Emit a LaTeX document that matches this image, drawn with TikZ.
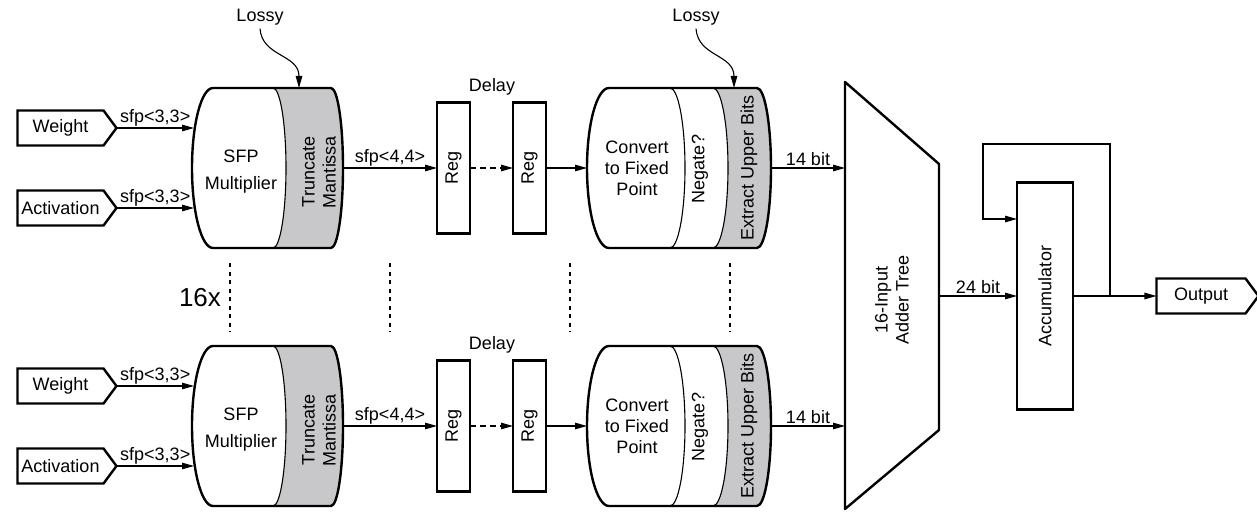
\documentclass[tikz,border=0pt]{standalone}
\usepackage{fontspec}
\setmainfont{Liberation Sans}
\usetikzlibrary{arrows.meta, positioning, shapes.symbols}
\definecolor{lossfill}{RGB}{200,200,202}

\begin{document}
\begin{tikzpicture}[
    x=1pt, y=1pt,
    font=\fontsize{18}{21}\selectfont,
    port/.style={draw, line width=2.4pt, signal, signal to=east, signal pointer angle=107,
                 minimum width=99pt, minimum height=35pt, inner sep=0pt, outer sep=0pt},
    regbox/.style={draw, line width=2.4pt, minimum width=33pt, minimum height=131pt,
                   inner sep=0pt, outer sep=0pt},
    frame/.style={minimum height=160pt, inner sep=0pt, outer sep=0pt},
    outline/.style={line width=2.4pt, line join=round},
    divider/.style={line width=1.1pt},
    lbl/.style={inner sep=1.5pt},
    arrow/.style={-{Triangle[length=12pt, width=6.5pt]}, line width=1.2pt},
    lane/.style={dash pattern=on 4pt off 4.5pt, line width=1.1pt},
]
    \useasboundingbox (0,0) rectangle (1257,512);

    % ---------------- Top lane ----------------
    \node[port] (weight1) at (60.5,384) {Weight};
    \node[port] (act1)    at (60.5,304) {Activation};

    % multiplier drum
    \node[frame, minimum width=149pt] (mult1) at (268.5,344) {};
    \fill[lossfill] (273,424) arc[start angle=90, end angle=-90, x radius=13pt, y radius=80pt]
        -- (331,264) arc[start angle=-90, end angle=90, x radius=12pt, y radius=80pt] -- cycle;
    \draw[divider] (273,424) arc[start angle=90, end angle=-90, x radius=13pt, y radius=80pt];
    \draw[outline] (331,424) -- (213,424) arc[start angle=90, end angle=270, x radius=21pt, y radius=80pt]
        -- (331,264) arc[start angle=-90, end angle=90, x radius=12pt, y radius=80pt] -- cycle;
    \node[align=center] (multtxt1) at (241,340) {SFP\\[6pt]Multiplier};
    \node[rotate=90, align=center] (trunc1) at (319,340) {Truncate\\Mantissa};

    % delay registers
    \node[regbox] (rega1) at (453.5,344) {\rotatebox{90}{Reg}};
    \node[regbox, right=43pt of rega1] (regb1) {\rotatebox{90}{Reg}};
    \node (delay1) at (492,425) {Delay};

    % fixed point drum
    \node[frame, minimum width=184pt] (conv1) at (679,344) {};
    \fill[lossfill] (713,424) arc[start angle=90, end angle=-90, x radius=15pt, y radius=80pt]
        -- (757,264) arc[start angle=-90, end angle=90, x radius=14pt, y radius=80pt] -- cycle;
    \draw[divider] (670,424) arc[start angle=90, end angle=-90, x radius=15pt, y radius=80pt];
    \draw[divider] (713,424) arc[start angle=90, end angle=-90, x radius=15pt, y radius=80pt];
    \draw[outline] (757,424) -- (609,424) arc[start angle=90, end angle=270, x radius=22pt, y radius=80pt]
        -- (757,264) arc[start angle=-90, end angle=90, x radius=14pt, y radius=80pt] -- cycle;
    \node[align=center] (convtxt1) at (637,344) {Convert\\to Fixed\\Point};
    \node[rotate=90] (neg1) at (700,343) {Negate?};
    \node[rotate=90] (extract1) at (749,344) {Extract Upper Bits};

    % lossy notes
    \node (lossy1) at (260,495) {Lossy};
    \node (lossy2) at (696,495) {Lossy};
    \coordinate (lossmul) at (299,424);
    \coordinate (lossconv) at (734,424);

    % ---------------- Bottom lane ----------------
    \node[port] (weight2) at (60.5,126) {Weight};
    \node[port] (act2)    at (60.5,46) {Activation};

    \node[frame, minimum width=149pt] (mult2) at (268.5,86) {};
    \fill[lossfill] (273,166) arc[start angle=90, end angle=-90, x radius=13pt, y radius=80pt]
        -- (331,6) arc[start angle=-90, end angle=90, x radius=12pt, y radius=80pt] -- cycle;
    \draw[divider] (273,166) arc[start angle=90, end angle=-90, x radius=13pt, y radius=80pt];
    \draw[outline] (331,166) -- (213,166) arc[start angle=90, end angle=270, x radius=21pt, y radius=80pt]
        -- (331,6) arc[start angle=-90, end angle=90, x radius=12pt, y radius=80pt] -- cycle;
    \node[align=center] (multtxt2) at (241,82) {SFP\\[6pt]Multiplier};
    \node[rotate=90, align=center] (trunc2) at (319,82) {Truncate\\Mantissa};

    \node[regbox] (rega2) at (453.5,86) {\rotatebox{90}{Reg}};
    \node[regbox, right=43pt of rega2] (regb2) {\rotatebox{90}{Reg}};
    \node (delay2) at (492,167) {Delay};

    \node[frame, minimum width=184pt] (conv2) at (679,86) {};
    \fill[lossfill] (713,166) arc[start angle=90, end angle=-90, x radius=15pt, y radius=80pt]
        -- (757,6) arc[start angle=-90, end angle=90, x radius=14pt, y radius=80pt] -- cycle;
    \draw[divider] (670,166) arc[start angle=90, end angle=-90, x radius=15pt, y radius=80pt];
    \draw[divider] (713,166) arc[start angle=90, end angle=-90, x radius=15pt, y radius=80pt];
    \draw[outline] (757,166) -- (609,166) arc[start angle=90, end angle=270, x radius=22pt, y radius=80pt]
        -- (757,6) arc[start angle=-90, end angle=90, x radius=14pt, y radius=80pt] -- cycle;
    \node[align=center] (convtxt2) at (637,86) {Convert\\to Fixed\\Point};
    \node[rotate=90] (neg2) at (700,85) {Negate?};
    \node[rotate=90] (extract2) at (749,86) {Extract Upper Bits};

    % 16 lanes
    \node[font=\fontsize{26}{30}\selectfont] (times) at (200,214) {16x};
    \draw[lane] (230,249) -- (230,180);
    \draw[lane] (390,249) -- (390,180);
    \draw[lane] (570,249) -- (570,180);
    \draw[lane] (730,249) -- (730,180);

    % ---------------- Adder and accumulator ----------------
    \node[minimum width=94pt, minimum height=428pt, inner sep=0pt, outer sep=0pt] (adder) at (892,216) {};
    \draw[outline] (845,430) -- (939,348) -- (939,82) -- (845,3) -- cycle;
    \node[rotate=90, align=center] (addtxt) at (892,212) {16-Input\\Adder Tree};

    \node[draw, line width=2.4pt, minimum width=56pt, minimum height=227pt, inner sep=0pt, outer sep=0pt]
        (acc) at (1045,216) {\rotatebox{90}{Accumulator}};
    \node[port, minimum width=102pt] (out) at (1201,216) {Output};
    \coordinate (fb) at (1110,216);
    \coordinate (fbtop) at (983,368);

    % Arrows
    \draw[arrow] (weight1.east) -- node[lbl, above] {sfp<3,3>} (weight1.east -| mult1.west);
    \draw[arrow] (act1.east) -- node[lbl, above] {sfp<3,3>} (act1.east -| mult1.west);
    \draw[arrow] (mult1.east) -- node[lbl, above] {sfp<4,4>} (rega1.west);
    \draw[arrow, dash pattern=on 6pt off 4pt] (rega1.east) -- (regb1.west);
    \draw[arrow] (regb1.east) -- (conv1.west);
    \draw[arrow] (conv1.east) -- node[lbl, above] {14 bit} (conv1.east -| adder.west);
    \draw[arrow, line width=1.1pt] (lossy1.south) .. controls (262,455) and (299,458) .. (lossmul);
    \draw[arrow, line width=1.1pt] (lossy2.south) .. controls (698,455) and (734,458) .. (lossconv);

    \draw[arrow] (weight2.east) -- node[lbl, above] {sfp<3,3>} (weight2.east -| mult2.west);
    \draw[arrow] (act2.east) -- node[lbl, above] {sfp<3,3>} (act2.east -| mult2.west);
    \draw[arrow] (mult2.east) -- node[lbl, above] {sfp<4,4>} (rega2.west);
    \draw[arrow, dash pattern=on 6pt off 4pt] (rega2.east) -- (regb2.west);
    \draw[arrow] (regb2.east) -- (conv2.west);
    \draw[arrow] (conv2.east) -- node[lbl, above] {14 bit} (conv2.east -| adder.west);

    \draw[arrow] (adder.east) -- node[lbl, above] {24 bit} (acc.west);
    \draw[arrow] (acc.east) -- (out.west);
    \draw[arrow, line width=1.1pt] (fb) |- (fbtop) |- ([yshift=77pt]acc.west);
\end{tikzpicture}
\end{document}
